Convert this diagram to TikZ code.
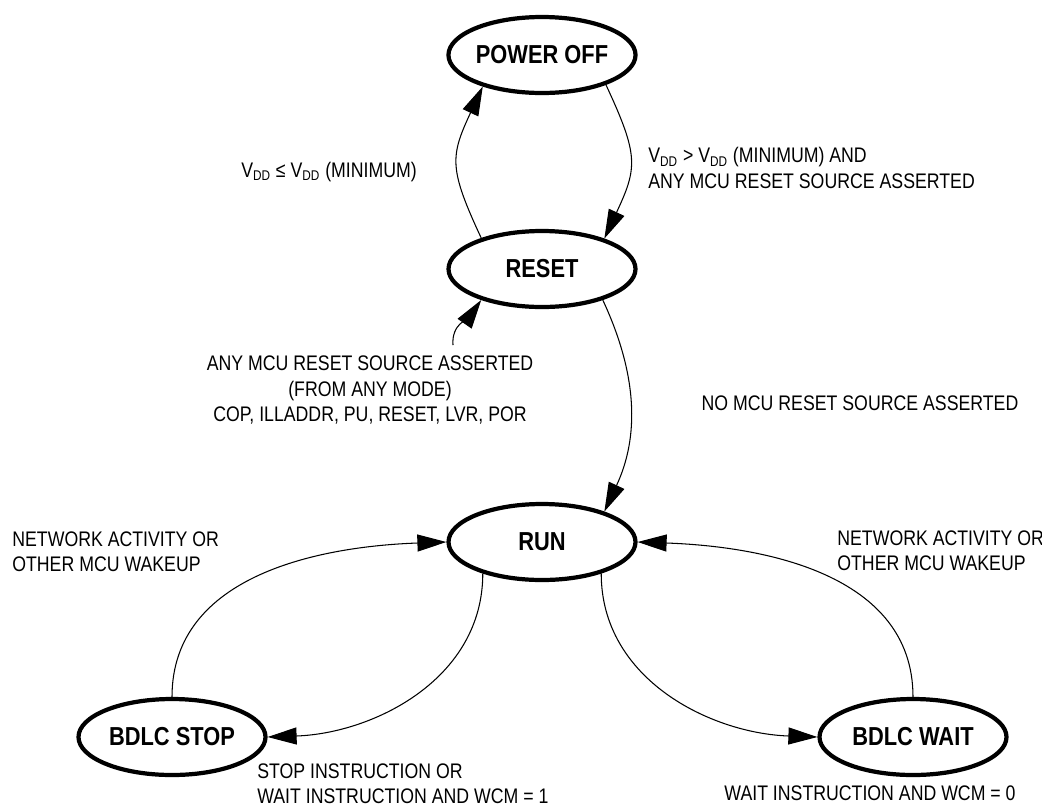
\documentclass[tikz,border=0pt]{standalone}
\usepackage{fontspec}
\setmainfont{Liberation Sans}[FakeStretch=0.84]
\usetikzlibrary{shapes.geometric,arrows.meta}

\begin{document}
\begin{tikzpicture}[x=0.2mm, y=-0.2mm, >={Triangle[length=5.8mm,width=3.4mm]}, line join=round,
    state/.style={ellipse, draw, line width=2.4pt, minimum width=37.4mm, minimum height=15.2mm, inner sep=0pt, font=\fontsize{14.8}{16}\selectfont\bfseries},
    trans/.style={->, line width=0.6pt},
    lbl/.style={font=\fontsize{12}{14.4}\selectfont, inner sep=0pt}]

    \useasboundingbox (0,0) rectangle (1042,806);

    % 状态
    \node[state] (poweroff) at (542,55) {POWER OFF};
    \node[state] (reset) at (542,269) {RESET};
    \node[state] (run) at (542,542) {RUN};
    \node[state] (stop) at (172,737) {BDLC STOP};
    \node[state] (wait) at (913,737) {BDLC WAIT};

    \coordinate (anysrc) at (453,345); % 来自任意模式

    % 转移
    \draw[trans] (reset.153) to[out=115, in=245, looseness=1.3] (poweroff.208);
    \draw[trans] (poweroff.-25) to[out=-65, in=65, looseness=1.3] (reset.26);
    \draw[trans] (reset.-27) to[out=-65, in=65] (run.26);
    \draw[trans] (anysrc) to[out=95, in=235] (reset.207);
    \draw[trans] (stop.north) to[out=90, in=182] (run.west);
    \draw[trans] (run.208) to[out=-90, in=2] (stop.east);
    \draw[trans] (run.-28) to[out=-90, in=178] (wait.west);
    \draw[trans] (wait.north) to[out=90, in=-2] (run.east);

    % 条件
    \node[lbl] (vlow) at (329,172) {V\textsubscript{DD} ≤ V\textsubscript{DD} (MINIMUM)};
    \node[lbl, anchor=west, align=left] (vhigh) at (648,168) {V\textsubscript{DD} > V\textsubscript{DD} (MINIMUM) AND\\ANY MCU RESET SOURCE ASSERTED};
    \node[lbl, align=center] (anyrst) at (370,390) {ANY MCU RESET SOURCE ASSERTED\\(FROM ANY MODE)\\COP, ILLADDR, PU, RESET, LVR, POR};
    \node[lbl] (norst) at (860,403) {NO MCU RESET SOURCE ASSERTED};
    \node[lbl, anchor=west, align=left] (wakel) at (12,552) {NETWORK ACTIVITY OR\\OTHER MCU WAKEUP};
    \node[lbl, anchor=west, align=left] (waker) at (837,551) {NETWORK ACTIVITY OR\\OTHER MCU WAKEUP};
    \node[lbl, anchor=west, align=left] (stopc) at (257,784) {STOP INSTRUCTION OR\\WAIT INSTRUCTION AND WCM = 1};
    \node[lbl] (waitc) at (870,793) {WAIT INSTRUCTION AND WCM = 0};
\end{tikzpicture}
\end{document}
